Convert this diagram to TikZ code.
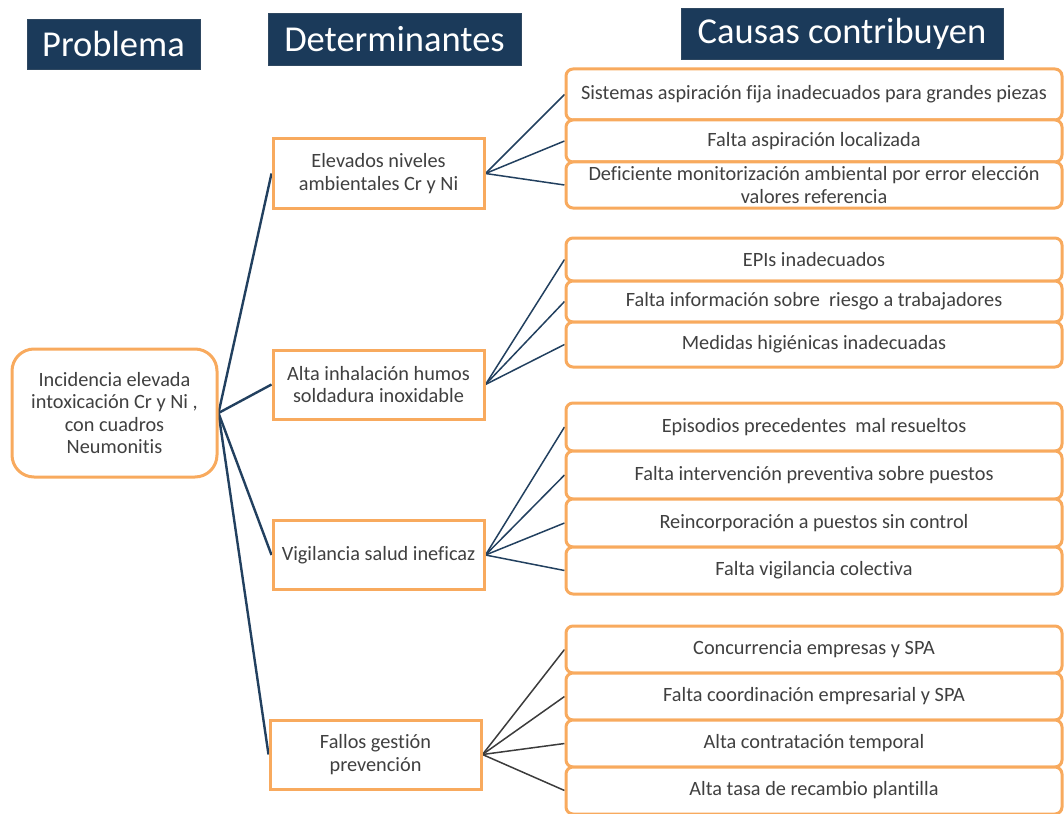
\documentclass[tikz,border=0pt]{standalone}
\usepackage{fontspec}
\setmainfont{Carlito}[Ligatures=NoCommon]
\usetikzlibrary{backgrounds}
\definecolor{navy}{HTML}{1B3A5A}
\definecolor{linknavy}{HTML}{22405F}
\definecolor{linkgray}{HTML}{3C3C3C}
\definecolor{boxorange}{HTML}{F8AA5E}
\definecolor{txt}{HTML}{404040}
\begin{document}
\begin{tikzpicture}[x=1pt,y=-1pt,
  header/.style={fill=navy, draw=navy!80!gray, line width=0.6pt, text=white, inner sep=0pt,
    font=\fontsize{36.5}{40}\selectfont},
  body/.style={text=txt, font=\fontsize{20.3}{22.5}\selectfont, align=center, inner sep=0pt},
  probnode/.style={body, draw=boxorange, line width=3pt, rounded corners=22pt, fill=white,
    minimum width=205pt, minimum height=128pt},
  detbox/.style={body, draw=boxorange, line width=3pt, fill=white,
    minimum width=211pt, minimum height=69pt},
  causebox/.style={body, draw=boxorange, line width=3pt, rounded corners=7pt, fill=white,
    minimum width=496pt},
  mainlink/.style={draw=linknavy, line width=2.4pt},
  sublink/.style={draw=linknavy, line width=1.5pt},
  graylink/.style={draw=linkgray, line width=1.5pt}
]
\useasboundingbox (0,0) rectangle (1064,813);

% column headers
\node[header, minimum width=173pt, minimum height=50pt] (hp) at (113.5,44) {Problema};
\node[header, minimum width=253pt, minimum height=52pt] (hd) at (394.5,39) {Determinantes};
\node[header, minimum width=322pt, minimum height=51pt] (hc) at (842,33.5) {Causas contribuyen};

% problem
\node[probnode] (p) at (114.5,413) {Incidencia elevada\\intoxicación Cr y Ni ,\\con cuadros\\Neumonitis};

% determinants
\node[detbox] (d1) at (378.5,173.5) {Elevados niveles\\ambientales Cr y Ni};
\node[detbox] (d2) at (378.5,384.5) {Alta inhalación humos\\soldadura inoxidable};
\node[detbox] (d3) at (378.5,555) {Vigilancia salud ineficaz};
\node[detbox] (d4) at (375.5,754.5) {Fallos gestión\\prevención};

% contributing causes
\node[causebox, minimum height=51pt] (c1) at (814,94.5) {Sistemas aspiración fija inadecuados para grandes piezas};
\node[causebox, minimum height=42pt] (c2) at (814,141) {Falta aspiración localizada};
\node[causebox, minimum height=46pt] (c3) at (814,185) {Deficiente monitorización ambiental por error elección\\valores referencia};

\node[causebox, minimum height=43pt] (c4) at (814,259.5) {EPIs inadecuados};
\node[causebox, minimum height=41pt] (c5) at (814,301.5) {Falta información sobre~ riesgo a trabajadores};
\node[causebox, minimum height=45pt] (c6) at (814,344.5) {Medidas higiénicas inadecuadas};

\node[causebox, minimum height=48pt] (c7) at (814,427) {Episodios precedentes~ mal resueltos};
\node[causebox, minimum height=48pt] (c8) at (814,475) {Falta intervención preventiva sobre puestos};
\node[causebox, minimum height=48pt] (c9) at (814,523) {Reincorporación a puestos sin control};
\node[causebox, minimum height=47pt] (c10) at (814,570.5) {Falta vigilancia colectiva};

\node[causebox, minimum height=47pt] (c11) at (814,649.5) {Concurrencia empresas y SPA};
\node[causebox, minimum height=47pt] (c12) at (814,696.5) {Falta coordinación empresarial y SPA};
\node[causebox, minimum height=47pt] (c13) at (814,743.5) {Alta contratación temporal};
\node[causebox, minimum height=47pt] (c14) at (814,790.5) {Alta tasa de recambio plantilla};

% connectors
\begin{scope}[on background layer]
  \foreach \d in {d1,d2,d3,d4} \draw[mainlink] (p.east) -- (\d.west);
  \foreach \c in {c1,c2,c3} \draw[sublink] (d1.east) -- (\c.west);
  \foreach \c in {c4,c5,c6} \draw[sublink] (d2.east) -- (\c.west);
  \foreach \c in {c7,c8,c9,c10} \draw[sublink] (d3.east) -- (\c.west);
  \foreach \c in {c11,c12,c13,c14} \draw[graylink] (d4.east) -- (\c.west);
\end{scope}
\end{tikzpicture}
\end{document}
